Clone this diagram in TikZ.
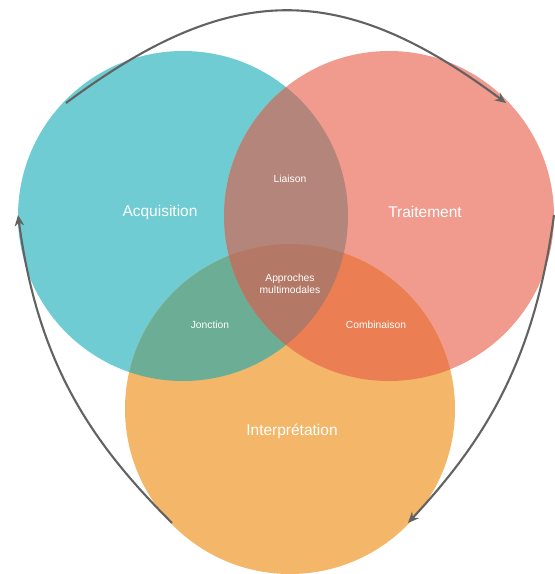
\documentclass[tikz,border=0pt]{standalone}
\usepackage{fontspec}
\setmainfont{Liberation Sans}
\usetikzlibrary{arrows.meta}
\definecolor{cA}{HTML}{6ECCD2}
\definecolor{cT}{HTML}{F09B8D}
\definecolor{cI}{HTML}{F4B668}
\definecolor{cAT}{HTML}{B4857A}
\definecolor{cAI}{HTML}{6BAE95}
\definecolor{cTI}{HTML}{EC7E53}
\definecolor{cATI}{HTML}{B47866}
\definecolor{arrgray}{HTML}{626262}
\tikzset{
  bigtxt/.style={text=white,font=\fontsize{15.5}{18}\selectfont,inner sep=0pt},
  smalltxt/.style={text=white,font=\fontsize{10.3}{12.5}\selectfont,inner sep=0pt,align=center},
  cycarrow/.style={draw=arrgray,line width=2.1pt,-{Stealth[length=11pt,width=9.5pt]}}
}
\begin{document}
\begin{tikzpicture}[x=1pt,y=-1pt]
\useasboundingbox (0,0) rectangle (555,574);
\coordinate (A) at (183,216);
\coordinate (T) at (389,216);
\coordinate (I) at (290,409);
\def\R{165pt}
\fill[cA] (A) circle[radius=\R];
\fill[cT] (T) circle[radius=\R];
\fill[cI] (I) circle[radius=\R];
\begin{scope}
  \clip (A) circle[radius=\R];
  \fill[cAT] (T) circle[radius=\R];
  \fill[cAI] (I) circle[radius=\R];
\end{scope}
\begin{scope}
  \clip (T) circle[radius=\R];
  \fill[cTI] (I) circle[radius=\R];
\end{scope}
\begin{scope}
  \clip (A) circle[radius=\R];
  \clip (T) circle[radius=\R];
  \fill[cATI] (I) circle[radius=\R];
\end{scope}
\node[bigtxt] (acq) at (160,212) {Acquisition};
\node[bigtxt] (tra) at (425,212) {Traitement};
\node[bigtxt] (int) at (292,431) {Interprétation};
\node[smalltxt] (lia) at (290,179) {Liaison};
\node[smalltxt] (app) at (290,284) {Approches\\multimodales};
\node[smalltxt] (jon) at (210,325) {Jonction};
\node[smalltxt] (com) at (376,325) {Combinaison};
\coordinate (s1) at (66,103);
\coordinate (e1) at (506,103);
\coordinate (s2) at (554,215);
\coordinate (e2) at (408,523);
\coordinate (s3) at (172,523);
\coordinate (e3) at (18,215);
\draw[cycarrow] (s1) .. controls (231,-20) and (341,-20) .. (e1);
\draw[cycarrow] (s2) .. controls (534,365) and (482,443) .. (e2);
\draw[cycarrow] (s3) .. controls (92,443) and (38,365) .. (e3);
\end{tikzpicture}
\end{document}
